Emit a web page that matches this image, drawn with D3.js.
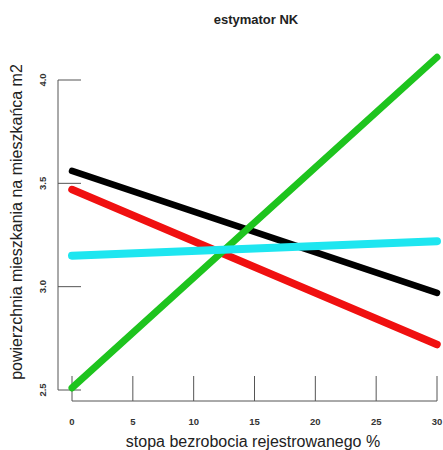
<!DOCTYPE html>
<html>
<head>
<meta charset="utf-8">
<script src="https://cdn.jsdelivr.net/npm/d3@7"></script>
<style>
  body { margin: 0; background: #fff; }
  text { font-family: "Liberation Sans", Arial, sans-serif; }
</style>
</head>
<body>
<div id="chart"></div>
<script>
const width = 443;
const height = 450;

// dane (wartosci na koncach prostych, x = 0 i x = 30)
const xEnds = [0, 30];
const black = [3.56, 2.97];
const red = [3.47, 2.72];
const green = [2.51, 4.11];
const cyan = [3.15, 3.22];
const xTicks = [0, 5, 10, 15, 20, 25, 30];
const yTicks = [2.5, 3.0, 3.5, 4.0];

const series = [
    { name: "black", values: black, color: "#000000", w: 6.5 },
    { name: "red", values: red, color: "#f01010", w: 7.5 },
    { name: "green", values: green, color: "#1ec41e", w: 7 },
    { name: "cyan", values: cyan, color: "#1ee6f0", w: 8 }
];

const svg = d3.select("#chart")
    .append("svg")
    .attr("width", width)
    .attr("height", height);

//scales
const x = d3.scaleLinear().domain([0, 30]).range([72, 437]);
const y = d3.scaleLinear().domain([2.5, 4.0]).range([390, 80]);

const axisColor = "#555";

// os y (R-style, ticks do srodka)
svg.append("line")
    .attr("x1", 58).attr("x2", 58)
    .attr("y1", y(4.0)).attr("y2", y(2.5))
    .attr("stroke", axisColor).attr("stroke-width", 1);
svg.selectAll(".ytick")
    .data(yTicks)
    .enter()
    .append("line")
    .attr("x1", 58).attr("x2", 81)
    .attr("y1", d => y(d)).attr("y2", d => y(d))
    .attr("stroke", axisColor).attr("stroke-width", 1);
svg.selectAll(".ylab")
    .data(yTicks)
    .enter()
    .append("text")
    .attr("transform", d => `translate(46,${y(d)}) rotate(-90)`)
    .attr("text-anchor", "middle")
    .attr("font-size", 9.5)
    .attr("font-weight", "bold")
    .attr("fill", "#333")
    .text(d => d.toFixed(1));

// os x
svg.append("line")
    .attr("x1", x(0)).attr("x2", x(30))
    .attr("y1", 401).attr("y2", 401)
    .attr("stroke", axisColor).attr("stroke-width", 1);
svg.selectAll(".xtick")
    .data(xTicks)
    .enter()
    .append("line")
    .attr("x1", d => x(d)).attr("x2", d => x(d))
    .attr("y1", 401).attr("y2", 376)
    .attr("stroke", axisColor).attr("stroke-width", 1);
svg.selectAll(".xlab")
    .data(xTicks)
    .enter()
    .append("text")
    .attr("x", d => x(d))
    .attr("y", 425)
    .attr("text-anchor", "middle")
    .attr("font-size", 9.5)
    .attr("font-weight", "bold")
    .attr("fill", "#333")
    .text(d => d);

//lines
const line = d3.line()
    .x((d, i) => x(xEnds[i]))
    .y(d => y(d));

svg.selectAll(".series")
    .data(series)
    .enter()
    .append("path")
    .attr("d", d => line(d.values))
    .attr("fill", "none")
    .attr("stroke", d => d.color)
    .attr("stroke-width", d => d.w)
    .attr("stroke-linecap", "round");

// tytuly
svg.append("text")
    .attr("x", 256).attr("y", 24)
    .attr("text-anchor", "middle")
    .attr("font-size", 13)
    .attr("font-weight", "bold")
    .attr("fill", "#222")
    .text("estymator NK");

svg.append("text")
    .attr("x", 253).attr("y", 447)
    .attr("text-anchor", "middle")
    .attr("font-size", 16)
    .attr("fill", "#222")
    .text("stopa bezrobocia rejestrowanego %");

svg.append("text")
    .attr("transform", "translate(22,222) rotate(-90)")
    .attr("text-anchor", "middle")
    .attr("font-size", 16)
    .attr("fill", "#222")
    .text("powierzchnia mieszkania na mieszkańca m2");
</script>
</body>
</html>
